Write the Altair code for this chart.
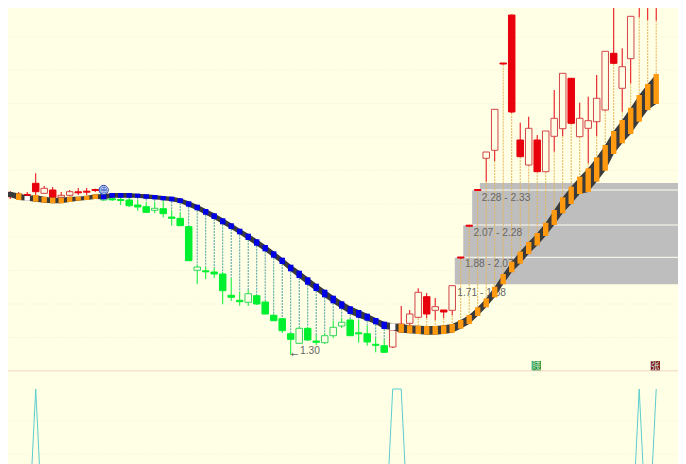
import altair as alt
import pandas as pd

# Chart level (grows downward), one row per session
highs = [190,191,192,192,173.3,186,187,192,190,188,188,188.7,192,197,197,198,200,202,202,200.7,
         210,212,226,265,266.7,268,272,278,291.7,290,295,301,314,318,333,327,327,335,333,320.7,
         318,319,320,326,338,340,325,306,310,288.3,293,298,310,285,257,225.2,189.5,152,109,63,
         14.5,122.7,116.7,135,131,90,73,78,102.7,96.7,75,51,0,48.3,16,-5,-5,-5]
body_tops = [192.3,193.3,194,194.5,183.3,188.3,190,195.3,191.7,191.8,191.2,189.5,194,198.8,199.5,200,205,206.7,208.3,208.7,
             217,218.3,226.7,267,270.8,272,274,295.3,300.3,293.7,295.7,302,315.3,318.7,333.7,328.3,328.3,341,335.7,327.3,
             322.3,320,332.8,333.7,344.3,345.7,330,324,314,292.3,296.7,306.7,310,285.7,257,225.2,189.5,152,109.3,63,
             15,140,128.3,140,131,118.3,73.3,78.3,118.3,120.7,98.3,51.3,53.3,66.7,16.3,-5,-2,-5]
body_bots = [193.3,196.7,197,195.5,191.7,193.3,197.3,197.3,195.3,192.8,192.2,190.5,200,199.8,200.5,205.7,207,212.3,210.3,213.7,
             218.3,225.7,260.7,270.3,271.8,274,290.7,297.3,301.7,302.3,304,314,320.7,330.7,339.3,343.3,340,342.3,342.7,335.7,
             326,335.7,333.8,342,345.3,352.3,347,332,323.3,317.3,314,310.3,312,310.3,258,226.2,190.5,158.3,150.3,64,
             112,156.7,165,171.7,171.7,136.3,128.7,123.3,136.7,128.3,121.7,110,63.3,88.3,58.7,4.7,6.7,-2]
lows = [196,199,198,196,197,194,198,203,196,195,195,192,201,201,205,207,210.7,213,213,217.3,
        225.7,226,261,284,279,278,304.3,301,305.7,306,305,314.5,321,333,355,344,341,345,344,338,
        328,336,342.7,345.7,352.3,352.5,348,333,325,318,318,320,318,315,259,227,191,181.7,161,64.5,
        113,157,165.5,172,172,151.7,136,124,137,163.3,136,111,64,111.7,83.3,17.3,20,20.7]
filled = [1,1,0,1,1,0,1,0,0,1,1,1,0,1,1,1,1,1,0,1,
          1,1,1,0,1,1,1,1,1,0,1,1,1,1,1,0,1,1,0,0,
          0,1,1,1,1,1,0,0,0,0,1,0,1,0,1,1,1,0,0,1,
          1,1,0,1,0,0,0,1,0,0,0,0,1,0,0,0,1,1]
ribbon_tops = [191,192,193.3,196,195,196.7,197.7,197.7,196.7,196.7,195.7,194.3,194.3,193,193,193,193.7,194.3,195,196,
               196.7,198.3,201.3,204.7,209,213.3,218.3,223.3,228.7,233.7,239.3,245,251.3,257.7,264.7,270.7,277.3,283.7,289.7,295.7,
               301.3,306.3,310,313.7,318,321.7,323.3,324,325.3,325.7,326,326,325.3,324,320,315,307.3,298.3,286.7,274,
               261.7,251.5,242,233,222.7,210,197.3,186.7,176.7,168.3,157.3,145,131,120,107.7,95,84,74]
ribbon_bots = [196,197,200,200.7,201.7,202.7,203.3,203.3,202,200.7,200,199,199.3,197.7,197.7,197.7,197.7,198.7,199.3,200.3,
               201.3,203,206.7,210.3,214.7,219,224.3,229,234.3,240,245.7,251.3,257.7,264,271.3,278,284.7,291,297.3,303.3,
               308.7,314,317.7,320.7,324.3,329,330,332.7,333.3,334,334.7,334.7,334,332.7,328.7,324,316,307.3,297.3,284.3,
               272.3,263.7,254,245.5,236,225,213.3,204,194,192,181.7,170.7,154,143.3,134,121.7,110,104]
ribbon_kinds = ["o","d","o","w"] + ["o"]*8 + ["b"]*34 + ["w"] + ["o"]*31

band_tops = [183, 190, 225, 257]
band_bots = [190, 225, 257, 284.3]
band_lefts = [56.25, 55.35, 54.3, 53.3]
edge_levels = [190, 225, 257.3]
edge_lefts = [55.35, 54.3, 53.3]
zone_labels = ["2.28 - 2.33", "2.07 - 2.28", "1.88 - 2.07", "1.71 - 1.88"]
zone_label_x = [56.47, 55.5, 54.5, 53.6]
zone_label_y = [198, 232.7, 264.3, 292.7]
grid_levels = [4, 37, 70, 103.5, 137, 170.5, 204, 237, 270.5, 304, 337.5, 421, 454]

spark_peak, spark_off = 389, 561
spark_high_sessions = [4, 46, 47, 75, 77]

W, H = 660, 446
X0, X1 = 1.329, 78.976
Y0, Y1 = 13, 459
XL, XR = -1, 81
BG = "#ffffe6"
RED, GREEN = "#e8000c", "#00f030"
COLORS = {"o": "#ff9a10", "b": "#0000e6", "w": "#ffffff", "d": "#3a3a3a"}

n = len(highs)
sessions = list(range(n))
rows = pd.DataFrame({
    "i": sessions, "high": highs, "top": body_tops, "bot": body_bots, "low": lows,
    "filled": filled, "rtop": ribbon_tops, "rbot": ribbon_bots,
    "rc": [COLORS[k] for k in ribbon_kinds],
    "up": [1 if (s < 12 or s >= 46) else 0 for s in sessions],
})
rows["wick"] = [RED if u else GREEN for u in rows["up"]]
rows["fill"] = [w if f else BG for w, f in zip(rows["wick"], rows["filled"])]
rows["edge"] = [w if f else ("#d2454a" if u else "#35d45a")
                for w, f, u in zip(rows["wick"], rows["filled"], rows["up"])]
rows["spark"] = [spark_peak if s in spark_high_sessions else spark_off for s in sessions]

xs = alt.Scale(domain=[X0, X1], nice=False, zero=False, padding=0)
ys = alt.Scale(domain=[Y0, Y1], range=[0, H], nice=False, zero=False)


def X(f="i"):
    return alt.X(f"{f}:Q", scale=xs, axis=None, title=None)


def Y(f):
    return alt.Y(f"{f}:Q", scale=ys, axis=None, title=None)


grid_df = pd.DataFrame({"y": grid_levels, "x": XL, "x2": XR})
grid = alt.Chart(grid_df).mark_rule(
    color="#f3efd2", strokeDash=[1, 2], strokeWidth=1).encode(x=X("x"), x2="x2:Q", y=Y("y"))
sep = alt.Chart(pd.DataFrame({"y": [370.7], "x": [XL], "x2": [XR]})).mark_rule(
    color="#f4e3cf", strokeWidth=1.5).encode(x=X("x"), x2="x2:Q", y=Y("y"))

bands_df = pd.DataFrame({"x": band_lefts, "x2": [XR] * 4, "y": band_tops, "y2": band_bots})
bands = alt.Chart(bands_df).mark_rect(color="#bebebe").encode(
    x=X("x"), x2="x2:Q", y=Y("y"), y2="y2:Q")
edges_df = pd.DataFrame({"x": edge_lefts, "x2": [XR] * 3, "y": edge_levels})
edges = alt.Chart(edges_df).mark_rule(color="#fffff0", strokeWidth=1).encode(
    x=X("x"), x2="x2:Q", y=Y("y"))

down_df = rows[(rows.i >= 13) & (rows.i <= 45)]
up_df = rows[rows.i >= 46]
drop_down = alt.Chart(down_df).mark_rule(
    color="#4f9f9f", strokeDash=[2, 1], strokeWidth=1).encode(
    x=X(), y=Y("rbot"), y2="high:Q")
drop_up = alt.Chart(up_df).mark_rule(
    color="#e8b458", strokeDash=[2, 1], strokeWidth=1).encode(
    x=X(), y=Y("low"), y2="rtop:Q")

labels_df = pd.DataFrame({"x": zone_label_x, "y": zone_label_y, "t": zone_labels})
labels = alt.Chart(labels_df).mark_text(
    align="left", baseline="middle", font="Liberation Sans",
    fontSize=10.2, color="#666666").encode(x=X("x"), y=Y("y"), text="t:N")

wicks = alt.Chart(rows).mark_rule(strokeWidth=1).encode(
    x=X(), y=Y("high"), y2="low:Q", color=alt.Color("wick:N", scale=None))
bodies = alt.Chart(rows).mark_bar(size=6.5, orient="vertical", strokeWidth=1).encode(
    x=X(), y=Y("top"), y2="bot:Q",
    fill=alt.Fill("fill:N", scale=None), stroke=alt.Stroke("edge:N", scale=None))

ribbon = alt.Chart(rows).mark_area(color="#3a3a3a", interpolate="linear").encode(
    x=X(), y=Y("rtop"), y2="rbot:Q")
ticks = alt.Chart(rows).mark_bar(size=5.4, orient="vertical").encode(
    x=X(), y=Y("rtop"), y2="rbot:Q", fill=alt.Fill("rc:N", scale=None))

low_arrow = alt.Chart(pd.DataFrame({"x": [34.45], "y": [354], "t": ["←"]})).mark_text(
    font="DejaVu Sans", fontSize=9, color="#666666").encode(x=X("x"), y=Y("y"), text="t:N")
low_label = alt.Chart(pd.DataFrame({"x": [35.1], "y": [351], "t": ["1.30"]})).mark_text(
    align="left", baseline="middle", font="Liberation Sans",
    fontSize=10.2, color="#666666").encode(x=X("x"), y=Y("y"), text="t:N")

icon = alt.Chart(pd.DataFrame({"x": [12], "y": [190]})).mark_point(
    filled=True, shape="circle", size=85, color="#5f7fd0", stroke="#2f3fa8",
    strokeWidth=1, opacity=1).encode(x=X("x"), y=Y("y"))
icon_face = alt.Chart(pd.DataFrame({"x": [12], "y": [190], "t": ["☺"]})).mark_text(
    font="DejaVu Sans", fontSize=9, color="#dfe6ff", baseline="middle").encode(
    x=X("x"), y=Y("y"), text="t:N")

markers_df = pd.DataFrame({"x": [62.9, 76.9], "y": [365.7, 365.7],
                           "c": ["#0d8a2a", "#7a0f1c"], "t": ["賤", "张"]})
marker_boxes = alt.Chart(markers_df).mark_square(size=85, opacity=1).encode(
    x=X("x"), y=Y("y"), fill=alt.Fill("c:N", scale=None))
marker_text = alt.Chart(markers_df).mark_text(
    font="Noto Sans CJK SC", fontSize=9, color="#d5ead5", baseline="middle").encode(
    x=X("x"), y=Y("y"), text="t:N")

spark = alt.Chart(rows).mark_line(color="#5ccdcd", strokeWidth=1).encode(
    x=X(), y=Y("spark"))

chart = alt.layer(
    grid, sep, bands, edges, drop_down, drop_up, labels, wicks, bodies,
    ribbon, ticks, low_arrow, low_label, icon, icon_face,
    marker_boxes, marker_text, spark,
).properties(
    width=W, height=H, background=BG,
    autosize=alt.AutoSizeParams(type="none"),
).configure_view(stroke=None)

chart.save("out.html", embed_options={"renderer": "svg", "actions": False})
